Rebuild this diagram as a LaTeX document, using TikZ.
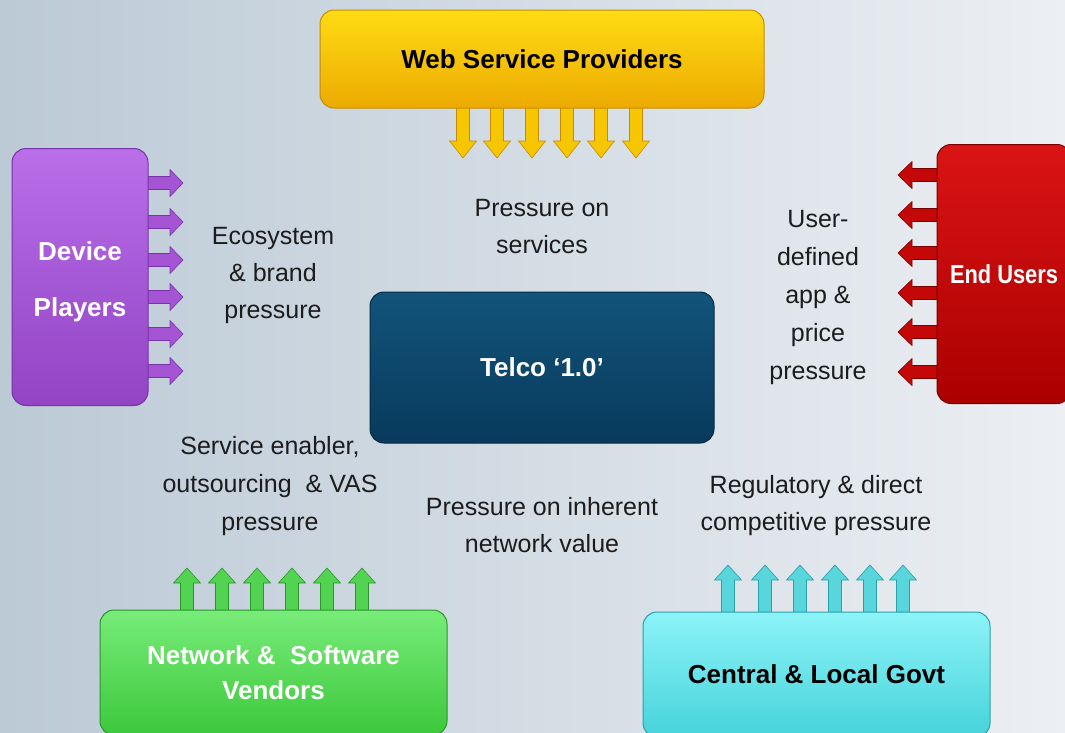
\documentclass[tikz,border=0pt]{standalone}
\usepackage{fontspec}
\setmainfont{Liberation Sans}
\usetikzlibrary{shadows}
\definecolor{bgL}{RGB}{188,202,214}
\definecolor{bgR}{RGB}{236,239,243}
\definecolor{yelT}{RGB}{255,220,20}
\definecolor{yelB}{RGB}{236,170,0}
\definecolor{yelD}{RGB}{200,140,0}
\definecolor{yelA}{RGB}{246,198,0}
\definecolor{purT}{RGB}{186,110,232}
\definecolor{purB}{RGB}{146,68,196}
\definecolor{purD}{RGB}{120,50,170}
\definecolor{purA}{RGB}{165,84,212}
\definecolor{redT}{RGB}{218,20,20}
\definecolor{redB}{RGB}{170,0,0}
\definecolor{redD}{RGB}{120,0,0}
\definecolor{redA}{RGB}{196,8,8}
\definecolor{telT}{RGB}{18,84,122}
\definecolor{telB}{RGB}{8,58,92}
\definecolor{telD}{RGB}{5,40,64}
\definecolor{grnT}{RGB}{120,236,120}
\definecolor{grnB}{RGB}{60,200,60}
\definecolor{grnD}{RGB}{40,150,40}
\definecolor{grnA}{RGB}{82,212,82}
\definecolor{cyaT}{RGB}{140,244,248}
\definecolor{cyaB}{RGB}{70,210,218}
\definecolor{cyaD}{RGB}{40,160,170}
\definecolor{cyaA}{RGB}{88,214,220}
\definecolor{txt}{RGB}{28,28,28}
\newcommand{\blkarrow}[6]{% style, x, y, angle, length, head length
  \filldraw[#1, shift={(#2,#3)}, rotate=#4]
    (0,-6.5) -- (#5-#6,-6.5) -- (#5-#6,-13.5) -- (#5,0) -- (#5-#6,13.5)
    -- (#5-#6,6.5) -- (0,6.5) -- cycle;}
\tikzset{
  box/.style={rounded corners=14pt, line width=1pt, font=\fontsize{26}{30}\selectfont\bfseries, align=center, inner sep=0pt},
  lbl/.style={font=\fontsize{25}{37}\selectfont, text=txt, align=center, inner sep=0pt},
  yarr/.style={fill=yelA, draw=yelD, line width=0.6pt},
  parr/.style={fill=purA, draw=purD, line width=0.6pt},
  rarr/.style={fill=redA, draw=redD, line width=0.6pt},
  garr/.style={fill=grnA, draw=grnD, line width=0.6pt},
  carr/.style={fill=cyaA, draw=cyaD, line width=0.6pt},
}
\begin{document}
\begin{tikzpicture}[x=1pt,y=-1pt]
\path[use as bounding box, left color=bgL, right color=bgR] (0,0) rectangle (1065,732);
\clip (0,0) rectangle (1065,732);

% arrows
\foreach \xx in {463,497,532,567,601,636} \blkarrow{yarr}{\xx}{106}{-90}{52}{17};
\foreach \yy in {183,222,260,297,334,371} \blkarrow{parr}{146}{\yy}{0}{37}{13};
\foreach \yy in {175,215,253,293,332,372} \blkarrow{rarr}{939}{\yy}{180}{41}{14};
\foreach \xx in {187,222,257,292,327,362} \blkarrow{garr}{\xx}{612}{90}{44}{15};
\foreach \xx in {728,765,800,835,870,903} \blkarrow{carr}{\xx}{614}{90}{49}{15};

% boxes
\node[box, top color=yelT, bottom color=yelB, draw=yelD, text=black,
  minimum width=444pt, minimum height=98pt] (wsp) at (542,59) {Web Service Providers};
\node[box, top color=purT, bottom color=purB, draw=purD, text=white,
  minimum width=136pt, minimum height=257pt, font=\fontsize{26}{56}\selectfont\bfseries] (dev) at (80,277) {};
\node[font=\fontsize{26}{56}\selectfont\bfseries, text=white, align=center, inner sep=0pt] (devt) at (80,282) {Device\\Players};
\node[box, top color=redT, bottom color=redB, draw=redD, text=white,
  minimum width=134pt, minimum height=259pt] (eu) at (1004,274) {\scalebox{0.84}[1]{End Users}};
\node[box, top color=telT, bottom color=telB, draw=telD, text=white,
  minimum width=344pt, minimum height=151pt] (telco) at (542,367.5) {Telco ‘1.0’};
\node[box, top color=grnT, bottom color=grnB, draw=grnD, text=white,
  minimum width=347pt, minimum height=125pt, font=\fontsize{26}{35}\selectfont\bfseries] (nsv) at (273.5,672.5) {Network \&\ \ Software\\Vendors};
\node[box, top color=cyaT, bottom color=cyaB, draw=cyaD, text=black,
  minimum width=347pt, minimum height=125pt] (gov) at (816.5,674.5) {Central \& Local Govt};

% labels
\node[lbl] (l1) at (542,226.5) {Pressure on\\services};
\node[lbl] (l2) at (273,275.5) {Ecosystem\\\& brand\\pressure};
\node[lbl, font=\fontsize{25}{38}\selectfont] (l3) at (818,297) {User-\\defined\\app \&\\price\\pressure};
\node[lbl, font=\fontsize{25}{38}\selectfont] (l4) at (270,486) {Service enabler,\\outsourcing\ \ \& VAS\\pressure};
\node[lbl] (l5) at (542,525) {Pressure on inherent\\network value};
\node[lbl] (l6) at (816,505.5) {Regulatory \& direct\\competitive pressure};
\end{tikzpicture}
\end{document}
